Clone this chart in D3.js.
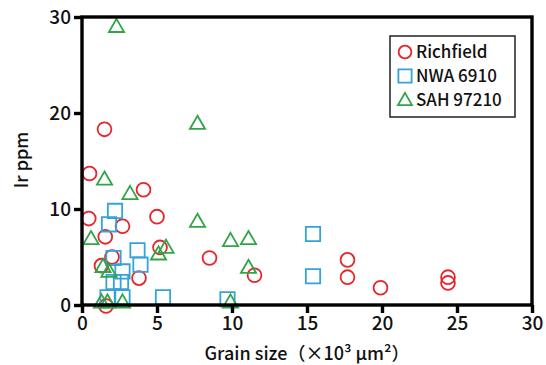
<!DOCTYPE html>
<html>
<head>
<meta charset="utf-8">
<script src="https://cdn.jsdelivr.net/npm/d3@7"></script>
<style>
  body { margin: 0; background: #fff; }
  text { font-family: "Noto Sans CJK JP", "Noto Sans", sans-serif; fill: #111; }
</style>
</head>
<body>
<script>
// grain size (x10^3 um^2), Ir ppm
const richfield = [
  [0.5, 13.7], [1.5, 18.3], [0.45, 9.0], [1.55, 7.1], [2.7, 8.2], [4.1, 12.0],
  [5.0, 9.2], [2.0, 5.0], [1.3, 4.1], [3.8, 2.8], [5.2, 6.0], [8.5, 4.9],
  [11.5, 3.1], [17.7, 4.7], [17.7, 2.9], [19.9, 1.8], [24.4, 2.9], [24.4, 2.3],
  [1.6, -0.1]
];
const nwa6910 = [
  [2.2, 9.8], [1.8, 8.4], [3.7, 5.7], [3.9, 4.2], [2.1, 4.9], [2.7, 3.5],
  [2.1, 2.4], [2.6, 2.4], [1.7, 0.8], [2.7, 0.8], [5.4, 0.8], [9.7, 0.6],
  [15.4, 7.4], [15.4, 3.0]
];
const sah97210 = [
  [2.3, 29.0], [7.7, 18.9], [1.5, 13.1], [3.2, 11.6], [0.6, 6.9], [7.7, 8.7],
  [9.9, 6.7], [11.1, 6.9], [11.1, 3.9], [5.6, 6.0], [5.1, 5.3], [1.4, 4.0],
  [1.8, 3.5], [1.3, 0.3], [1.7, 0.3], [2.7, 0.3], [9.9, 0.3]
];
const xTicks = [0, 5, 10, 15, 20, 25, 30];
const yTicks = [0, 10, 20, 30];

const series = [
  { name: "Richfield", data: richfield, type: d3.symbolCircle, color: "#e6262b" },
  { name: "NWA 6910", data: nwa6910, type: d3.symbolSquare, color: "#34a3dc" },
  { name: "SAH 97210", data: sah97210, type: d3.symbolTriangle, color: "#30a547" }
];

const W = 546, H = 365;
const svg = d3.select("body").append("svg").attr("width", W).attr("height", H);

const x = d3.scaleLinear().domain([0, 30]).range([82, 532]);
const y = d3.scaleLinear().domain([0, 30]).range([305, 17]);

function symPath(type, scale) {
  let size = type === d3.symbolCircle ? 150 : type === d3.symbolSquare ? 205 : 100;
  return d3.symbol().type(type).size(size * (scale || 1))();
}

// points
series.forEach(s => {
  svg.append("g").selectAll("path")
    .data(s.data)
    .enter().append("path")
    .attr("d", symPath(s.type))
    .attr("transform", d => `translate(${x(d[0])},${y(d[1]) + (s.type === d3.symbolTriangle ? 1 : 0)})`)
    .attr("fill", "none")
    .attr("stroke", s.color)
    .attr("stroke-width", 1.8);
});

// frame
svg.append("rect")
  .attr("x", x(0)).attr("y", y(30))
  .attr("width", x(30) - x(0)).attr("height", y(0) - y(30))
  .attr("fill", "none").attr("stroke", "#000").attr("stroke-width", 3.4);

// axes
const xAxis = svg.append("g")
  .attr("transform", `translate(0,${y(0)})`)
  .call(d3.axisBottom(x).tickValues(xTicks).tickSize(8).tickPadding(4));
const yAxis = svg.append("g")
  .attr("transform", `translate(${x(0)},0)`)
  .call(d3.axisLeft(y).tickValues(yTicks).tickSize(8).tickPadding(3));
[xAxis, yAxis].forEach(a => {
  a.select(".domain").remove();
  a.selectAll(".tick line").attr("stroke", "#000").attr("stroke-width", 3.4);
  a.selectAll(".tick text")
    .attr("font-family", "'Noto Sans CJK JP', sans-serif")
    .attr("font-size", 19).attr("font-weight", 500).attr("fill", "#111");
});

// axis titles
svg.append("text")
  .attr("x", 307).attr("y", 360)
  .attr("text-anchor", "middle")
  .attr("font-size", 18).attr("font-weight", 500)
  .text("Grain size（×10³ μm²）");
svg.append("text")
  .attr("transform", "translate(28,160) rotate(-90)")
  .attr("text-anchor", "middle")
  .attr("font-size", 18).attr("font-weight", 500)
  .text("Ir ppm");

// legend
const lg = svg.append("g");
lg.append("rect")
  .attr("x", 390).attr("y", 36).attr("width", 125).attr("height", 81)
  .attr("fill", "#fff").attr("stroke", "#222").attr("stroke-width", 1.5);
series.forEach((s, i) => {
  const cy = 52 + i * 24;
  lg.append("path")
    .attr("d", symPath(s.type, 0.85))
    .attr("transform", `translate(405,${cy + (s.type === d3.symbolTriangle ? 1 : 0)})`)
    .attr("fill", "none").attr("stroke", s.color).attr("stroke-width", 1.8);
  lg.append("text")
    .attr("x", 416).attr("y", cy + 6)
    .attr("font-size", 17).attr("font-weight", 500)
    .text(s.name);
});
</script>
</body>
</html>
